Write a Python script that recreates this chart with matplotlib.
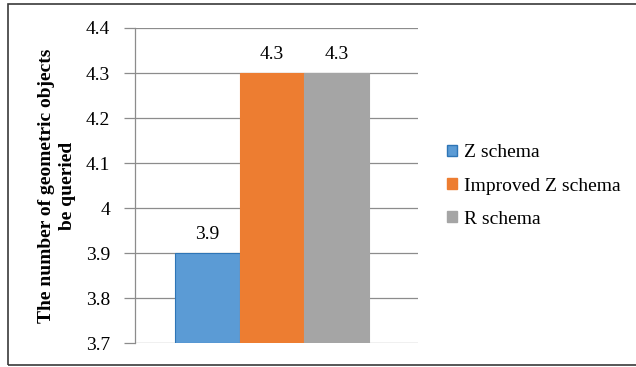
import numpy as np
import matplotlib
matplotlib.use('Agg')
import matplotlib.pyplot as plt
import matplotlib.patches as mpatches

series = ['Z schema', 'Improved Z schema', 'R schema']
values = [3.9, 4.3, 4.3]
colors = ['#5B9BD5', '#ED7D31', '#A5A5A5']
edges = ['#2E75B6', '#ED7D31', '#A5A5A5']
yticks = [3.7, 3.8, 3.9, 4.0, 4.1, 4.2, 4.3, 4.4]
ytick_labels = ['3.7', '3.8', '3.9', '4', '4.1', '4.2', '4.3', '4.4']

plt.rcParams['font.family'] = ['Liberation Serif', 'DejaVu Serif']
FS = 14

fig = plt.figure(figsize=(6.36, 3.67), dpi=100)
# outer frame
fig.patches.append(mpatches.Rectangle((8 / 636, 1 - 365 / 367), 1.0, (365 - 4) / 367,
                                      transform=fig.transFigure, fill=False,
                                      edgecolor='#3a3a3a', linewidth=1.2))

ax = fig.add_axes([135 / 636, 1 - 343 / 367, 283 / 636, 315 / 367])

pos = np.arange(len(series)) - 1
bars = ax.bar(pos, [v - 3.7 for v in values], width=1.0, bottom=3.7,
              color=colors, edgecolor=edges, linewidth=0.8, zorder=3)
for p, v in zip(pos, values):
    ax.text(p, v + 0.022, str(v), ha='center', va='bottom', fontsize=FS)

ax.set_xlim(-2.115, 2.254)
ax.set_ylim(3.7, 4.4)
ax.set_yticks(yticks)
ax.set_yticklabels(ytick_labels, fontsize=FS)
ax.set_xticks([])
ax.yaxis.grid(True, color='#8c8c8c', linewidth=0.9, zorder=0)
ax.tick_params(axis='y', length=8, width=0.9, color='#8c8c8c', pad=10)
for s in ['top', 'right', 'bottom']:
    ax.spines[s].set_visible(False)
ax.spines['left'].set_color('#8c8c8c')
ax.spines['left'].set_linewidth(0.9)

fig.text(57 / 636, 1 - 186 / 367, 'The number of geometric objects\nbe queried',
         rotation=90, ha='center', va='center', fontsize=FS,
         fontweight='bold', linespacing=1.28, multialignment='center')

handles = [mpatches.Patch(facecolor=c, edgecolor=e) for c, e in zip(colors, edges)]
fig.legend(handles, series, loc='center left', bbox_to_anchor=(447 / 636, 1 - 186 / 367),
           frameon=False, fontsize=FS, handlelength=0.5, handleheight=0.5,
           handletextpad=0.4, labelspacing=0.84, borderpad=0, borderaxespad=0)

fig.savefig('out.png', dpi=100)
